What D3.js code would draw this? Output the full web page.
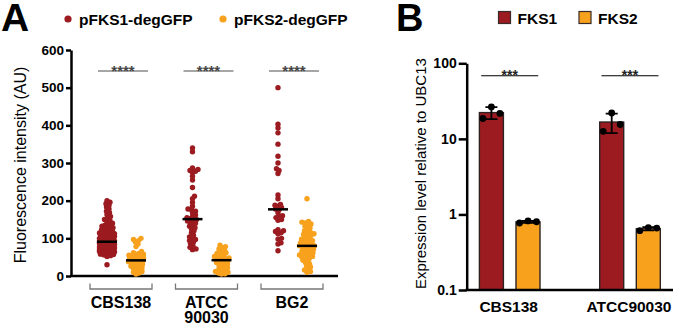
<!DOCTYPE html>
<html lang="en">
<head>
<meta charset="UTF-8" />
<title>FKS1 / FKS2 expression</title>
<script src="https://d3js.org/d3.v7.min.js"></script>
<style>
  body { margin: 0; background: #fff; font-family: "Liberation Sans", Arial, Helvetica, sans-serif; }
  svg text { font-family: "Liberation Sans", Arial, Helvetica, sans-serif; }
  .axis path, .axis line { stroke: #000; stroke-width: 2.5; }
  .axis text { font-weight: bold; fill: #000; }
</style>
</head>
<body>
<svg id="chart" width="675" height="324"></svg>
<script>
// ---- panel A data ----
const strainsA = ["CBS138", "ATCC 90030", "BG2"];
const reportersA = ["pFKS1-degGFP", "pFKS2-degGFP"];
const yTicksA = [0, 100, 200, 300, 400, 500, 600];

const cbsFks1 = [200, 196, 192, 188, 183, 178, 172, 168, 163, 158, 154, 150, 147, 144, 140, 137, 135, 132, 130, 128,
  126, 124, 122, 120, 118, 117, 115, 114, 112, 111, 110, 108, 107, 106, 105, 104, 103, 102, 101, 100,
  99, 98, 97, 96, 95, 94, 93, 92, 92, 91, 90, 89, 88, 87, 86, 85, 85, 84, 83, 82,
  81, 80, 80, 79, 78, 77, 76, 75, 75, 74, 73, 72, 71, 70, 69, 68, 67, 66, 65, 64,
  62, 60, 58, 56, 54, 52, 30, 91, 89, 87, 84, 82, 79, 77, 74, 72, 70, 68, 63, 61, 57];
const cbsFks2 = [100, 97, 94, 90, 85, 78, 65, 62, 60, 58, 57, 55, 53, 51, 50, 48, 47, 45, 44, 42,
  41, 40, 39, 38, 36, 35, 33, 31, 30, 28, 26, 24, 22, 20, 18, 15, 12, 10, 8, 5];
const atccFks1 = [340, 330, 287, 283, 280, 278, 275, 265, 255, 235, 212, 205, 195, 185, 178, 176, 172, 168, 162, 158,
  155, 152, 150, 148, 146, 143, 140, 136, 132, 128, 125, 120, 115, 108, 104, 100, 97, 94, 90, 86, 80, 76, 72, 70];
const atccFks2 = [82, 78, 75, 72, 70, 66, 62, 60, 58, 55, 52, 50, 48, 47, 45, 44, 43, 42, 40, 38,
  36, 34, 32, 30, 28, 25, 22, 20, 18, 15, 12, 10, 8, 6, 5];
const bg2Fks1 = [500, 403, 393, 380, 350, 318, 300, 285, 280, 272, 215, 205, 190, 188, 185, 182, 178, 176, 168, 160,
  158, 155, 150, 148, 123, 120, 118, 115, 112, 100, 98, 88, 85, 67];
const bg2Fks2 = [205, 145, 143, 141, 138, 135, 132, 128, 125, 120, 118, 115, 112, 110, 108, 105, 102, 100, 98, 96,
  94, 92, 90, 88, 86, 84, 82, 81, 80, 80, 79, 78, 76, 74, 72, 70, 68, 66, 64, 62,
  60, 58, 56, 54, 52, 50, 48, 45, 42, 40, 36, 32, 28, 24, 20, 16, 12, 10];
const valuesA = [[cbsFks1, cbsFks2], [atccFks1, atccFks2], [bg2Fks1, bg2Fks2]];

// ---- panel B data ----
const strainsB = ["CBS138", "ATCC90030"];
const genesB = ["FKS1", "FKS2"];
const yTicksB = [0.1, 1, 10, 100];
const fks1Reps = [[18.6, 26.5, 21.7], [12.6, 22.0, 15.5]];
const fks2Reps = [[0.77, 0.82, 0.80], [0.61, 0.67, 0.66]];
const repsB = [fks1Reps, fks2Reps];

const red = "#9b1b20";
const orange = "#f7a11d";
const colors = [red, orange];

const svg = d3.select("#chart");

// ================= Panel A =================
const yA = d3.scaleLinear().domain([0, 600]).range([276, 50]);
const xA = d3.scalePoint().domain(strainsA).range([121, 292]);
const subA = d3.scalePoint().domain(reportersA).range([-14, 15]);

svg.append("text").attr("x", 1).attr("y", 31)
  .attr("font-size", 39).attr("font-weight", "bold").text("A");

const legA = svg.append("g").selectAll("g").data(reportersA).join("g")
  .attr("transform", (d, i) => `translate(${68 + i * 155},0)`);
legA.append("circle").attr("cx", 0).attr("cy", 19).attr("r", 3.6).attr("fill", (d, i) => colors[i]);
legA.append("text").attr("x", 11).attr("y", 25).attr("font-size", 15.5).attr("font-weight", "bold").text(d => d);

svg.append("g").attr("class", "axis")
  .attr("transform", "translate(71,0)")
  .call(d3.axisLeft(yA).tickValues(yTicksA).tickSize(5).tickPadding(2).tickSizeOuter(0))
  .call(g => g.selectAll("text").style("font-size", "13.5px").style("font-weight", "bold"));

svg.append("line").attr("x1", 70).attr("x2", 338).attr("y1", yA(0)).attr("y2", yA(0))
  .attr("stroke", "#000").attr("stroke-width", 2.5);

svg.append("text")
  .attr("transform", `translate(26,${(yA(0) + yA(600)) / 2 + 2}) rotate(-90)`)
  .attr("text-anchor", "middle").attr("font-size", 16).text("Fluorescence intensity (AU)");

// simple beeswarm layout
function swarm(values, y, minD, maxW) {
  const pts = values.map(v => ({ v, y: y(v) })).sort((a, b) => b.y - a.y);
  const placed = [];
  for (const p of pts) {
    let best = 0, bestD = -1;
    for (let k = 0; ; k++) {
      const off = (k % 2 ? 1 : -1) * Math.ceil(k / 2) * 0.5;
      if (Math.abs(off) > maxW) break;
      let dmin = Infinity;
      for (const q of placed) dmin = Math.min(dmin, Math.hypot(q.x - off, q.y - p.y));
      if (dmin >= minD) { best = off; bestD = dmin; break; }
      if (dmin > bestD) { best = off; bestD = dmin; }
    }
    placed.push({ x: best, y: p.y, v: p.v });
  }
  return placed;
}

strainsA.forEach((s, gi) => {
  reportersA.forEach((r, si) => {
    const cx = xA(s) + subA(r);
    const pts = swarm(valuesA[gi][si], yA, 3.1, 7.5);
    svg.append("g").selectAll("circle").data(pts).join("circle")
      .attr("cx", d => cx + d.x).attr("cy", d => d.y).attr("r", 2.7)
      .attr("fill", colors[si]);
    const med = d3.median(valuesA[gi][si]);
    svg.append("line").attr("x1", cx - 10).attr("x2", cx + 10)
      .attr("y1", yA(med)).attr("y2", yA(med))
      .attr("stroke", "#000").attr("stroke-width", 2.5);
  });
  const c = xA(s);
  // significance bar
  svg.append("line").attr("x1", c - 23).attr("x2", c + 27).attr("y1", 71).attr("y2", 71)
    .attr("stroke", "#888").attr("stroke-width", 1.6);
  svg.append("text").attr("x", c + 2).attr("y", 76).attr("text-anchor", "middle")
    .attr("font-size", 15).attr("font-weight", "bold").attr("fill", "#444").text("****");
  // group bracket
  svg.append("path")
    .attr("d", `M${c - 31},283.5V289H${c + 31}V283.5`)
    .attr("fill", "none").attr("stroke", "#777").attr("stroke-width", 1.3);
  const lines = s.split(" ");
  const t = svg.append("text").attr("text-anchor", "middle")
    .attr("font-size", 16).attr("font-weight", "bold");
  lines.forEach((l, i) => t.append("tspan").attr("x", c).attr("y", 307.5 + i * 15).text(l));
});

// ================= Panel B =================
const yB = d3.scaleLog().domain([0.1, 100]).range([290, 63.3]);
const xB = d3.scalePoint().domain(strainsB).range([509.7, 630]);
const subB = d3.scalePoint().domain(genesB).range([-18.3, 18.3]);
const barW = 24;

svg.append("text").attr("x", 396).attr("y", 31)
  .attr("font-size", 38).attr("font-weight", "bold").text("B");

const legB = svg.append("g").selectAll("g").data(genesB).join("g")
  .attr("transform", (d, i) => `translate(${498.5 + i * 80.5},0)`);
legB.append("rect").attr("x", 0).attr("y", 11.5).attr("width", 12).attr("height", 12)
  .attr("fill", (d, i) => colors[i]).attr("stroke", "#3a2a2a").attr("stroke-width", 1.2);
legB.append("text").attr("x", 19).attr("y", 23.5).attr("font-size", 15.5).attr("font-weight", "bold").text(d => d);

strainsB.forEach((s, gi) => {
  genesB.forEach((g, si) => {
    const reps = repsB[si][gi];
    const m = d3.mean(reps), sd = d3.deviation(reps);
    const cx = xB(s) + subB(g);
    svg.append("rect").attr("x", cx - barW / 2).attr("width", barW)
      .attr("y", yB(m)).attr("height", yB(0.1) - yB(m))
      .attr("fill", colors[si]).attr("stroke", "#2e2222").attr("stroke-width", 1.4);
    // error bar
    svg.append("path")
      .attr("d", `M${cx},${yB(m)}V${yB(m + sd)}M${cx - 6},${yB(m + sd)}H${cx + 6}` +
        `M${cx},${yB(m)}V${yB(m - sd)}M${cx - 6},${yB(m - sd)}H${cx + 6}`)
      .attr("stroke", "#000").attr("stroke-width", 1.8).attr("fill", "none");
    svg.append("g").selectAll("circle").data(reps).join("circle")
      .attr("cx", (d, i) => cx + (i - 1) * 8.5).attr("cy", d => yB(d)).attr("r", 3.4)
      .attr("fill", "#000");
  });
  const c = xB(s);
  svg.append("line").attr("x1", c - 28.5).attr("x2", c + 28.5).attr("y1", 75.7).attr("y2", 75.7)
    .attr("stroke", "#000").attr("stroke-width", 1.1);
  svg.append("text").attr("x", c).attr("y", 80).attr("text-anchor", "middle")
    .attr("font-size", 14).attr("font-weight", "bold").attr("fill", "#222").text("***");
  svg.append("text").attr("x", c - 1).attr("y", 312).attr("text-anchor", "middle")
    .attr("font-size", 15.5).attr("font-weight", "bold").text(s);
});

svg.append("g").attr("class", "axis")
  .attr("transform", "translate(466.7,0)")
  .call(d3.axisLeft(yB).tickValues(yTicksB).tickFormat(d3.format("~g")).tickSize(8).tickPadding(2).tickSizeOuter(0))
  .call(g => g.selectAll("text").style("font-size", "14px").style("font-weight", "bold"));

svg.append("line").attr("x1", 465.5).attr("x2", 673).attr("y1", yB(0.1)).attr("y2", yB(0.1))
  .attr("stroke", "#000").attr("stroke-width", 2.5);

svg.append("text")
  .attr("transform", `translate(426,${(yB(0.1) + yB(100)) / 2 - 3}) rotate(-90)`)
  .attr("text-anchor", "middle").attr("font-size", 15).text("Expression level relative to UBC13");
</script>
</body>
</html>
